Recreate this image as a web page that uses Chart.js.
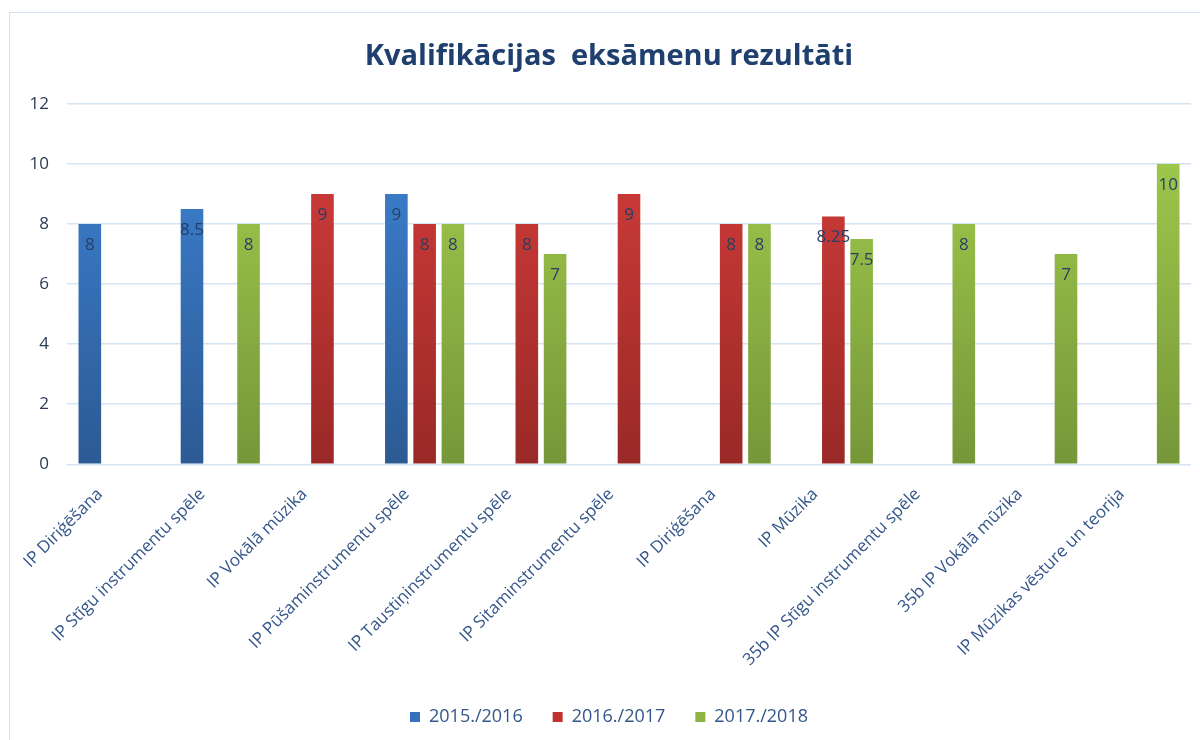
<!DOCTYPE html>
<html>
<head>
<meta charset="utf-8">
<script src="https://cdn.jsdelivr.net/npm/chart.js@4.4.0/dist/chart.umd.min.js"></script>
<style>
  html, body { margin: 0; padding: 0; background: #fff; overflow: hidden; }
  #frame {
    position: absolute; left: 9px; top: 12px; width: 1230px; height: 740px;
    border-left: 1.5px solid #d5e1f0; border-top: 1.5px solid #d5e1f0;
  }
  #wrap { position: absolute; left: 0; top: 0; width: 1212px; height: 728px; }
</style>
</head>
<body>
<div id="frame"><div id="wrap"><canvas id="chart"></canvas></div></div>
<script>
// categories and values
const categories = [
  'IP Diriģēšana',
  'IP Stīgu instrumentu spēle',
  'IP Vokālā mūzika',
  'IP Pūšaminstrumentu spēle',
  'IP Taustiņinstrumentu spēle',
  'IP Sitaminstrumentu spēle',
  'IP Diriģēšana',
  'IP Mūzika',
  '35b IP Stīgu instrumentu spēle',
  '35b IP Vokālā mūzika',
  'IP Mūzikas vēsture un teorija'
];
const seriesNames = ['2015./2016', '2016./2017', '2017./2018'];
const values2015 = [8, 8.5, null, 9, null, null, null, null, null, null, null];
const values2016 = [null, null, 9, 8, 8, 9, 8, 8.25, null, null, null];
const values2017 = [null, 8, null, 8, 7, null, 8, 7.5, 8, 7, 10];
const yTicks = [0, 2, 4, 6, 8, 10, 12];

const solidColors = ['#3572bd', '#c0322f', '#8db443'];
const gradStops = [
  ['#3b7dcc', '#2c5a93'],
  ['#cd3b38', '#992927'],
  ['#9dc64b', '#769739']
];

const FONT = '"Open Sans", "DejaVu Sans", sans-serif';
const textBlue = '#34568a';

function barFill(i) {
  return (ctx) => {
    const area = ctx.chart.chartArea;
    if (!area) return solidColors[i];
    const g = ctx.chart.ctx.createLinearGradient(0, area.top + 60, 0, area.bottom);
    g.addColorStop(0, gradStops[i][0]);
    g.addColorStop(1, gradStops[i][1]);
    return g;
  };
}

const valueLabels = {
  id: 'valueLabels',
  afterDatasetsDraw(chart) {
    const c = chart.ctx;
    c.save();
    c.font = '17px ' + FONT;
    c.fillStyle = '#263f66';
    c.textAlign = 'center';
    c.textBaseline = 'middle';
    chart.data.datasets.forEach((ds, di) => {
      const meta = chart.getDatasetMeta(di);
      meta.data.forEach((bar, idx) => {
        const v = ds.data[idx];
        if (v === null || v === undefined) return;
        c.fillText(String(v), bar.x, bar.y + 21);
      });
    });
    c.restore();
  }
};

const datasets = [values2015, values2016, values2017].map((vals, i) => ({
  label: seriesNames[i],
  data: vals,
  backgroundColor: barFill(i),
  borderWidth: 0,
  categoryPercentage: 0.83,
  barPercentage: 0.8
}));

new Chart(document.getElementById('chart'), {
  type: 'bar',
  data: { labels: categories, datasets: datasets },
  plugins: [valueLabels],
  options: {
    responsive: true,
    maintainAspectRatio: false,
    animation: false,
    layout: { padding: { left: 17, right: 31, top: 26, bottom: 5 } },
    plugins: {
      title: {
        display: true,
        text: 'Kvalifikācijas  eksāmenu rezultāti',
        color: '#1f3f6e',
        font: { family: FONT, size: 29, weight: 'bold' },
        padding: { top: 0, bottom: 30 }
      },
      legend: {
        position: 'bottom',
        labels: {
          color: textBlue,
          font: { family: FONT, size: 18 },
          boxWidth: 10,
          boxHeight: 10,
          padding: 30,
          generateLabels: (chart) => seriesNames.map((name, i) => ({
            text: name,
            fillStyle: solidColors[i],
            strokeStyle: solidColors[i],
            lineWidth: 0,
            fontColor: textBlue,
            datasetIndex: i
          }))
        }
      },
      tooltip: { enabled: false }
    },
    scales: {
      x: {
        grid: { display: false },
        border: { display: false },
        afterFit: (axis) => { axis.height += 14; },
        ticks: {
          color: textBlue,
          font: { family: FONT, size: 17 },
          minRotation: 45,
          maxRotation: 45,
          autoSkip: false,
          padding: -6,
          callback: (v, i) => categories[i] + '\u2002\u2002\u2002'
        }
      },
      y: {
        min: 0,
        max: 12,
        afterBuildTicks: (axis) => { axis.ticks = yTicks.map(v => ({ value: v })); },
        afterFit: (axis) => { axis.width = 40; },
        grid: { color: '#d6e3f3', lineWidth: 1.5, drawTicks: false },
        border: { display: false },
        ticks: {
          color: '#2b3a55',
          font: { family: FONT, size: 17 },
          padding: 18
        }
      }
    }
  }
});
</script>
</body>
</html>
